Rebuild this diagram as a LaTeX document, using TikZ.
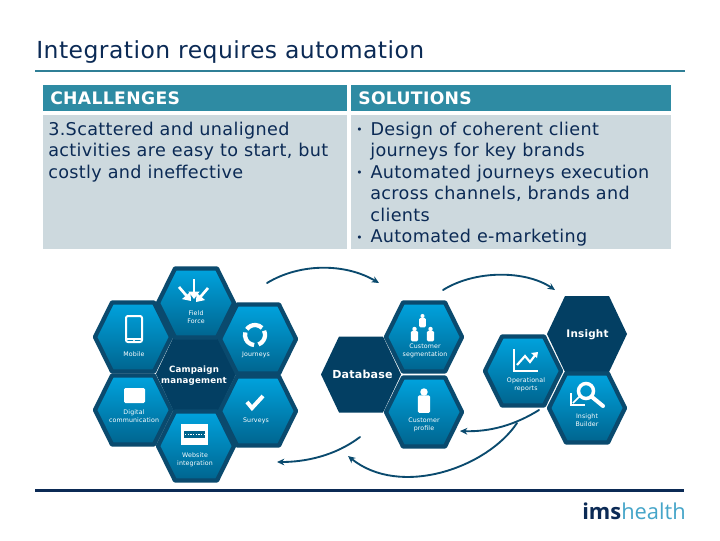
\documentclass[tikz,border=0pt]{standalone}
\usepackage{fontspec}
\setmainfont[LetterSpace=2]{DejaVu Sans}
\newfontfamily\logofont{Open Sans}
\usetikzlibrary{arrows.meta}
\definecolor{navy}{HTML}{0B2A55}
\definecolor{teal}{HTML}{2E8BA3}
\definecolor{rulec}{HTML}{2F7F96}
\definecolor{pale}{HTML}{CDD9DE}
\definecolor{hexdark}{HTML}{033F63}
\definecolor{hexedge}{HTML}{0A4A6E}
\definecolor{hextop}{HTML}{00A3DE}
\definecolor{hexbot}{HTML}{00648E}
\definecolor{logolight}{HTML}{45A5C9}
\tikzset{
  x=0.75pt,y=-0.75pt,
  hdrbox/.style={fill=teal,draw=none,minimum height=19.5pt,anchor=north west,inner sep=0pt},
  bodybox/.style={fill=pale,draw=none,anchor=north west,inner sep=0pt},
  hdrtext/.style={anchor=west,inner sep=0pt,text=white,font=\fontsize{12.9}{14}\selectfont\bfseries},
  bodytext/.style={anchor=north west,inner sep=0pt,align=left,text=navy,font=\fontsize{13.2}{16.1}\selectfont},
  lab/.style={inner sep=0pt,text=white,align=center,font=\fontsize{4.7}{6}\selectfont},
  darklab/.style={inner sep=0pt,text=white,align=center,font=\fontsize{6.5}{8.2}\selectfont\bfseries},
  flow/.style={draw=hexedge,line width=1.4pt,line cap=round,-{Stealth[length=5.5pt,width=5pt]}},
  ffarrow/.style={draw=white,line width=2pt,-{Triangle[length=5.5pt,width=8pt]}},
  iconl/.style={draw=white,line width=1.6pt,line cap=butt},
}
\newcommand{\lighthex}[3]{%
  \path[shade,top color=hextop,bottom color=hexbot,draw=hexedge,line width=3.2pt,line join=round]
    (#1-38,#2) -- (#1-21,#2-34.5) -- (#1+21,#2-34.5) -- (#1+38,#2) -- (#1+21,#2+34.5) -- (#1-21,#2+34.5) -- cycle;
  \coordinate (#3) at (#1,#2);}
\newcommand{\darkhex}[3]{%
  \fill[hexdark,line join=round]
    (#1-40,#2) -- (#1-22,#2-38) -- (#1+22,#2-38) -- (#1+40,#2) -- (#1+22,#2+38) -- (#1-22,#2+38) -- cycle;
  \coordinate (#3) at (#1,#2);}
\newcommand{\person}[3]{%
  \fill[white] (#1,#2) circle[radius=3.4*#3];
  \fill[white,rounded corners=1pt] (#1-5.5*#3,#2+3*#3) rectangle (#1+5.5*#3,#2+19*#3);}
\begin{document}
\begin{tikzpicture}
\useasboundingbox (0,0) rectangle (720,540);
\fill[white] (0,0) rectangle (720,540);
% title
\node[anchor=base west,inner sep=0pt,text=navy,font=\fontsize{17.6}{20}\selectfont] (title) at (36,58) {Integration requires automation};
\coordinate (r1a) at (35,70.5); \coordinate (r1b) at (685,70.5);
\draw[rulec,line width=1.5pt] (r1a) -- (r1b);
\coordinate (r2a) at (35,490.5); \coordinate (r2b) at (684,490.5);
\draw[navy,line width=1.6pt] (r2a) -- (r2b);
% table
\node[hdrbox,minimum width=228pt] (h1) at (43,85) {};
\node[hdrbox,minimum width=240pt] (h2) at (351,85) {};
\node[bodybox,minimum width=228pt,minimum height=100.5pt] (b1) at (43,115) {};
\node[bodybox,minimum width=240pt,minimum height=100.5pt] (b2) at (351,115) {};
\node[hdrtext] (h1t) at (50,98.5) {CHALLENGES};
\node[hdrtext] (h2t) at (358,98.5) {SOLUTIONS};
\node[bodytext] (b1t) at (48,121.5) {3.Scattered and unaligned\\activities are easy to start, but\\costly and ineffective};
\node[bodytext] (b2t) at (356,121.5) {{\fontsize{8}{8}\selectfont\raisebox{1pt}{•}}\hspace{6pt}Design of coherent client\\\hspace{10.5pt}journeys for key brands\\{\fontsize{8}{8}\selectfont\raisebox{1pt}{•}}\hspace{6pt}Automated journeys execution\\\hspace{10.5pt}across channels, brands and\\\hspace{10.5pt}clients\\{\fontsize{8}{8}\selectfont\raisebox{1pt}{•}}\hspace{6pt}Automated e-marketing};
% left cluster
\darkhex{196}{374}{cm}
\lighthex{196}{303}{ff}
\lighthex{133}{337}{mob}
\lighthex{258}{339}{jou}
\lighthex{133}{410}{dig}
\lighthex{258}{411}{sur}
\lighthex{196}{446}{web}
\node[darklab] (cmt) at (194,375.5) {Campaign\\management};
\node[lab] (fft) at (196,317.5) {Field\\Force};
\node[lab] (mobt) at (134,354.5) {Mobile};
\node[lab] (jout) at (256,354.5) {Journeys};
\node[lab] (digt) at (134,416.5) {Digital\\communication};
\node[lab] (surt) at (256,420.5) {Surveys};
\node[lab] (webt) at (195,459.5) {Website\\integration};
% field force icon
\draw[ffarrow] (194,279) -- (194,299);
\draw[ffarrow] (179,287) -- (191,301);
\draw[ffarrow] (208,288) -- (196,302);
% mobile icon
\draw[white,line width=1.5pt,rounded corners=1.5pt] (126,316) rectangle (142,342);
\fill[white] (134,340.5) circle[radius=.8];
\draw[white,line width=1.5pt] (126,339) -- (142,339);
% journeys icon
\draw[white,line width=3.2pt] (255,335) ++(-25:10) arc[start angle=-25,end angle=70,radius=10];
\draw[white,line width=3.2pt] (255,335) ++(95:10) arc[start angle=95,end angle=195,radius=10];
\draw[white,line width=3.2pt] (255,335) ++(215:10) arc[start angle=215,end angle=315,radius=10];
% digital icon
\fill[white,rounded corners=1pt] (124,388) rectangle (145,403);
% surveys icon
\draw[white,line width=3pt] (247,402) -- (252,408) -- (263,396);
% website icon
\fill[white] (181,424) rectangle (208,445);
\fill[hexbot] (184,431) rectangle (205,438);
\draw[white,line width=.5pt,dash pattern=on 1pt off 1pt] (185,434.5) -- (205,434.5);
% middle cluster
\darkhex{361}{374.5}{db}
\lighthex{424}{337}{seg}
\lighthex{424}{412}{pro}
\node[inner sep=0pt,text=white,font=\fontsize{8.3}{10}\selectfont\bfseries] (dbt) at (362.5,374) {Database};
\node[lab] (segt) at (425,351) {Customer\\segmentation};
\node[lab] (prot) at (424,424.5) {Customer\\profile};
\person{422.5}{316}{0.6}
\person{414.5}{329}{0.65}
\person{430.5}{329}{0.65}
\person{424}{392}{1.1}
% right cluster
\darkhex{587}{334}{ins}
\lighthex{523}{371}{ops}
\lighthex{587}{408}{bui}
\node[inner sep=0pt,text=white,font=\fontsize{7.8}{10}\selectfont\bfseries] (inst) at (587.5,335) {Insight};
\node[lab] (opst) at (526,384.5) {Operational\\reports};
\node[lab] (buit) at (587,420) {Insight\\Builder};
% operational icon
\draw[iconl] (514,349) -- (514,371) -- (538,371);
\draw[iconl] (517,365) -- (525,356) -- (530,362) -- (536,354);
\fill[white] (538,352) -- (531,353) -- (537,358) -- cycle;
% builder icon
\draw[white,line width=2.6pt] (586,391) circle[radius=7.5];
\draw[white,line width=3pt,line cap=round] (592,397) -- (603,406);
\draw[white,line width=1.4pt] (571,393) -- (571,405) -- (585,405);
\draw[white,line width=1.2pt] (573,403) -- (580,396);
% flows
\coordinate (a1s) at (267,283); \coordinate (a1e) at (379,283);
\coordinate (a2s) at (443,290); \coordinate (a2e) at (555,290);
\coordinate (a3s) at (360,437); \coordinate (a3e) at (277,462);
\coordinate (a4s) at (517,423); \coordinate (a4e) at (348,456);
\coordinate (a5s) at (539,410); \coordinate (a5e) at (460,431);
\draw[flow] (a1s) .. controls (300,263) and (345,263) .. (a1e);
\draw[flow] (a2s) .. controls (475,270) and (525,270) .. (a2e);
\draw[flow] (a3s) .. controls (335,456) and (305,462) .. (a3e);
\draw[flow] (a4s) .. controls (487,468) and (400,498) .. (a4e);
\draw[flow] (a5s) .. controls (515,425) and (490,432) .. (a5e);
% logo
\node[anchor=base west,inner sep=0pt,font=\logofont\fontsize{16.4}{20}\selectfont] (logo) at (582,519) {\textcolor{navy}{\bfseries ims}\textcolor{logolight}{health}};
\end{tikzpicture}
\end{document}
